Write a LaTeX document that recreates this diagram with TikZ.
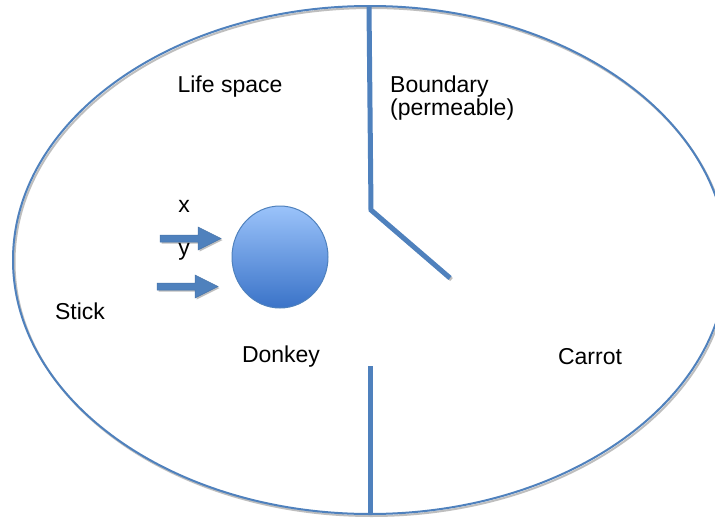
\documentclass[tikz,border=0pt]{standalone}
\usepackage{fontspec}
\setmainfont{Liberation Sans}
\definecolor{lineblue}{RGB}{79,129,189}
\definecolor{topblue}{RGB}{155,195,250}
\definecolor{botblue}{RGB}{58,115,200}
\definecolor{shadowgray}{RGB}{190,190,190}
\begin{document}
\begin{tikzpicture}[x=1pt,y=-1pt,
  lbl/.style={font=\fontsize{23}{27}\selectfont, text=black, inner sep=0pt, anchor=center},
  outline/.style={draw=lineblue, line width=2pt},
  wall/.style={draw=lineblue, line width=5pt},
  shadowline/.style={draw=shadowgray, line width=2pt},
  blockarrow/.style={fill=lineblue, draw=lineblue!90!black, line width=0.5pt}]
\useasboundingbox (0,0) rectangle (715,517);
\clip (0,0) rectangle (715,517);
\fill[white] (0,0) rectangle (715,517);
% life space ellipse
\draw[shadowline] (371.5,262) ellipse [x radius=357, y radius=254];
\draw[outline] (370,260) ellipse [x radius=357, y radius=254];
% boundary (upper, bent)
\coordinate (btop) at (369,6);
\coordinate (bend) at (371,210);
\coordinate (bend2) at (450,278);
\coordinate (lowtop) at (370,366);
\coordinate (lowbot) at (370,515);
\draw[draw=shadowgray, line width=4pt] ([shift={(1.5,1.5)}]bend) -- ([shift={(1.5,1.5)}]bend2);
\draw[wall, line join=miter] (btop) -- (bend) -- (bend2);
\draw[wall] (lowtop) -- (lowbot);
% donkey
\shade[top color=topblue, bottom color=botblue, draw=lineblue, line width=1pt]
  (280,257) ellipse [x radius=48, y radius=51];
\node (donkeybody) at (280,257) {};
% block arrows
\fill[shadowgray] (161.5,236.5) -- (199.5,236.5) -- (199.5,228.5) -- (222.5,240) -- (199.5,251.5) -- (199.5,243.5) -- (161.5,243.5) -- cycle;
\path[blockarrow] (160,235) -- (198,235) -- (198,227) -- (221,238.5) -- (198,250) -- (198,242) -- (160,242) -- cycle;
\fill[shadowgray] (158.5,284.5) -- (196.5,284.5) -- (196.5,276.5) -- (219.5,288) -- (196.5,299.5) -- (196.5,291.5) -- (158.5,291.5) -- cycle;
\path[blockarrow] (157,283) -- (195,283) -- (195,275) -- (218,286.5) -- (195,298) -- (195,290) -- (157,290) -- cycle;
% labels
\node[lbl] (lifespace) at (230,87) {Life space};
\node[lbl, anchor=west] (boundary) at (390,87) {Boundary};
\node[lbl, anchor=west] (permeable) at (390,110) {(permeable)};
\node[lbl] (xlab) at (184,206) {x};
\node[lbl] (ylab) at (184,252) {y};
\node[lbl] (stick) at (80,311) {Stick};
\node[lbl] (donkey) at (281,357) {Donkey};
\node[lbl] (carrot) at (590,357) {Carrot};
\end{tikzpicture}
\end{document}
